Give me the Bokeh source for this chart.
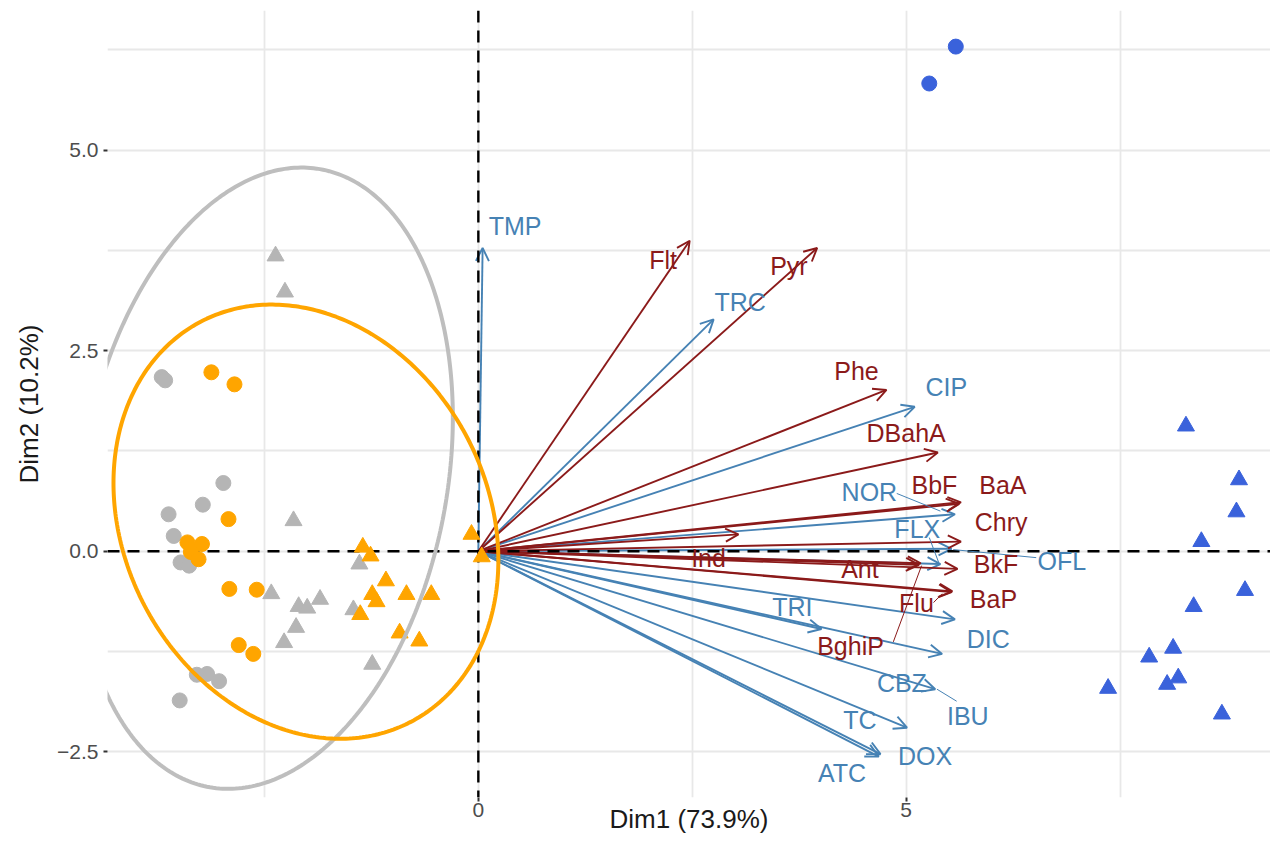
import numpy as np
from bokeh.plotting import figure
from bokeh.models import (Range1d, FixedTicker, Span, Arrow, OpenHead,
                          ColumnDataSource)
from bokeh.core.properties import value
from bokeh.embed import file_html
from bokeh.resources import INLINE

# ---------------- data ----------------
# individuals (PCA scores)
gray_circle_x = [-3.70, -3.66, -2.98, -3.22, -3.62, -3.56, -3.48, -3.38, -3.29, -3.17, -3.03, -3.49]
gray_circle_y = [2.17, 2.13, 0.85, 0.58, 0.46, 0.19, -0.14, -0.18, -1.54, -1.53, -1.62, -1.86]

orange_circle_x = [-3.12, -2.85, -2.92, -3.40, -3.23, -3.36, -3.27, -2.91, -2.59, -2.80, -2.63]
orange_circle_y = [2.23, 2.08, 0.40, 0.11, 0.09, -0.01, -0.10, -0.47, -0.48, -1.17, -1.28]

gray_tri_x = [-2.37, -2.26, -2.16, -2.42, -2.10, -2.00, -1.85, -2.13, -2.27, -1.39, -1.46, -1.24]
gray_tri_y = [3.68, 3.23, 0.38, -0.53, -0.69, -0.71, -0.60, -0.95, -1.14, -0.16, -0.73, -1.41]

orange_tri_x = [-1.35, -1.26, -1.08, -1.24, -1.19, -0.84, -0.55, -1.38, -0.92, -0.69, -0.08, 0.04]
orange_tri_y = [0.05, -0.06, -0.37, -0.54, -0.63, -0.54, -0.54, -0.79, -1.02, -1.12, 0.21, -0.07]

blue_circle_x = [5.27, 5.58]
blue_circle_y = [5.83, 6.29]

blue_tri_x = [8.27, 8.89, 8.86, 8.45, 8.96, 8.36, 8.12, 7.84, 8.18, 8.05, 7.36, 8.69]
blue_tri_y = [1.56, 0.89, 0.49, 0.12, -0.49, -0.69, -1.21, -1.32, -1.58, -1.66, -1.71, -2.03]

# variables (loadings, scaled)
pharma_names = ["TMP", "TRC", "CIP", "NOR", "OFL", "FLX", "DIC", "TRI", "CBZ", "IBU", "TC", "DOX", "ATC"]
pharma_x = [0.05, 2.75, 5.10, 5.57, 5.53, 5.40, 5.57, 4.01, 5.42, 5.34, 5.01, 4.70, 4.68]
pharma_y = [3.78, 2.89, 1.80, 0.46, 0.03, -0.16, -0.85, -0.97, -1.28, -1.72, -2.20, -2.53, -2.56]
pharma_lab_x = [0.43, 3.06, 5.47, 4.57, 6.82, 5.13, 5.96, 3.67, 4.95, 5.72, 4.46, 5.22, 4.25]
pharma_lab_y = [4.05, 3.11, 2.05, 0.74, -0.12, 0.28, -1.10, -0.70, -1.64, -2.05, -2.10, -2.55, -2.76]

pah_names = ["Flt", "Pyr", "Phe", "DBahA", "BbF", "BaA", "Ind", "Chry", "BkF", "Ant", "BghiP", "Flu", "BaP"]
pah_x = [2.47, 3.96, 4.77, 5.37, 5.62, 5.64, 3.04, 5.64, 5.60, 5.17, 5.15, 5.53, 5.54]
pah_y = [3.87, 3.78, 2.01, 1.23, 0.59, 0.61, 0.21, 0.12, -0.22, -0.15, -0.17, -0.51, -0.50]
pah_lab_x = [2.16, 3.63, 4.42, 5.00, 5.33, 6.13, 2.69, 6.11, 6.05, 4.46, 4.35, 5.12, 6.02]
pah_lab_y = [3.63, 3.55, 2.25, 1.47, 0.83, 0.83, -0.08, 0.36, -0.16, -0.22, -1.18, -0.64, -0.60]

# repel connector segments (label edge -> arrow tip)
pharma_seg_x0 = [4.89, 5.27, 6.52, 5.59]
pharma_seg_y0 = [0.72, 0.17, -0.08, -1.87]
pharma_seg_x1 = [5.40, 5.38, 5.55, 5.36]
pharma_seg_y1 = [0.50, -0.14, 0.02, -1.72]
pah_seg_x0 = [4.85, 5.32]
pah_seg_y0 = [-1.13, -0.64]
pah_seg_x1 = [5.18, 5.42]
pah_seg_y1 = [-0.18, -0.53]

# concentration ellipses: centre, half extents (x, y) and correlation
ell_cx = [-2.494, -2.015]
ell_cy = [0.910, 0.368]
ell_hx = [2.196, 2.249]
ell_hy = [3.872, 2.706]
ell_r = [0.195, -0.178]
ell_color = ["#BEBEBE", "#FFA500"]

x_ticks = [0, 5]
x_minor = [-2.5, 2.5, 7.5]
y_ticks = [-2.5, 0, 2.5, 5]
y_minor = [-1.25, 1.25, 3.75, 6.25]
y_tick_labels = {-2.5: "\u22122.5", 0: "0.0", 2.5: "2.5", 5: "5.0"}
x_tick_labels = {0: "0", 5: "5"}

RED = "#8B1A1A"
BLUE = "#4682B4"
FONT = "Liberation Sans"

# ---------------- figure ----------------
p = figure(width=1270, height=840,
           x_range=Range1d(-4.334, 9.258), y_range=Range1d(-3.07, 6.74),
           output_backend="svg", toolbar_location=None,
           min_border_left=107, min_border_right=0, min_border_top=10, min_border_bottom=43)
p.outline_line_color = None
p.background_fill_color = "white"

p.xaxis.ticker = FixedTicker(ticks=x_ticks, minor_ticks=x_minor)
p.yaxis.ticker = FixedTicker(ticks=y_ticks, minor_ticks=y_minor)
p.xaxis.major_label_overrides = x_tick_labels
p.yaxis.major_label_overrides = y_tick_labels

for g in (p.xgrid, p.ygrid):
    g.grid_line_color = "#E8E8E8"
    g.grid_line_width = 1.8
    g.minor_grid_line_color = "#E8E8E8"
    g.minor_grid_line_width = 1.8

for ax in (p.xaxis, p.yaxis):
    ax.axis_line_color = None
    ax.major_tick_in = 0
    ax.major_tick_out = 4
    ax.major_tick_line_color = "#333333"
    ax.major_tick_line_width = 2
    ax.minor_tick_line_color = None
    ax.major_label_text_font = FONT
    ax.major_label_text_font_size = "21px"
    ax.major_label_text_color = "#4D4D4D"
    ax.axis_label_text_font = FONT
    ax.axis_label_text_font_size = "26px"
    ax.axis_label_text_font_style = "normal"
    ax.axis_label_text_color = "#1A1A1A"

p.xaxis.axis_label = "Dim1 (73.9%)"
p.yaxis.axis_label = "Dim2 (10.2%)"
p.xaxis.major_label_standoff = 1
p.xaxis.axis_label_standoff = -16
p.yaxis.major_label_standoff = 5
p.yaxis.axis_label_standoff = 10

# arrows
def add_arrows(xs, ys, color):
    src = ColumnDataSource(dict(x0=[0.0 for _ in xs], y0=[0.0 for _ in ys], x1=xs, y1=ys))
    arr = Arrow(end=OpenHead(size=13, line_color=color, line_width=1.9),
                x_start="x0", y_start="y0", x_end="x1", y_end="y1",
                source=src, line_color=color, line_width=1.9, level="underlay")
    p.add_layout(arr)

add_arrows(pharma_x, pharma_y, BLUE)
add_arrows(pah_x, pah_y, RED)

# dashed axes
for dim in ("width", "height"):
    p.add_layout(Span(location=0, dimension=dim, line_color="black", line_width=2.4,
                      line_dash="12 8", level="underlay"))

# individuals
p.scatter(gray_circle_x, gray_circle_y, marker="circle", size=15, color="#B5B5B5")
p.scatter(orange_circle_x, orange_circle_y, marker="circle", size=15, color="#FFA500")
p.scatter(gray_tri_x, gray_tri_y, marker="triangle", size=17, color="#B5B5B5")
p.scatter(orange_tri_x, orange_tri_y, marker="triangle", size=17, color="#FFA500")
p.scatter(blue_circle_x, blue_circle_y, marker="circle", size=15, color="#3A62DB")
p.scatter(blue_tri_x, blue_tri_y, marker="triangle", size=17, color="#3A62DB")

# ellipses (outline of the correlated ellipse from its parameters)
t = np.linspace(0, 2 * np.pi, 361)
for cx, cy, hx, hy, r, col in zip(ell_cx, ell_cy, ell_hx, ell_hy, ell_r, ell_color):
    ex = cx + hx * np.cos(t)
    ey = cy + hy * (r * np.cos(t) + np.sqrt(1 - r * r) * np.sin(t))
    p.line(ex, ey, line_color=col, line_width=4)

# connector segments
p.segment(pharma_seg_x0, pharma_seg_y0, pharma_seg_x1, pharma_seg_y1, line_color=BLUE, line_width=1)
p.segment(pah_seg_x0, pah_seg_y0, pah_seg_x1, pah_seg_y1, line_color=RED, line_width=1)

# variable labels
p.text(pharma_lab_x, pharma_lab_y, text=pharma_names, text_color=BLUE,
       text_font=value(FONT), text_font_size="25px", text_align="center", text_baseline="middle")
p.text(pah_lab_x, pah_lab_y, text=pah_names, text_color=RED,
       text_font=value(FONT), text_font_size="25px", text_align="center", text_baseline="middle")

open("out.html", "w").write(file_html(p, INLINE))
